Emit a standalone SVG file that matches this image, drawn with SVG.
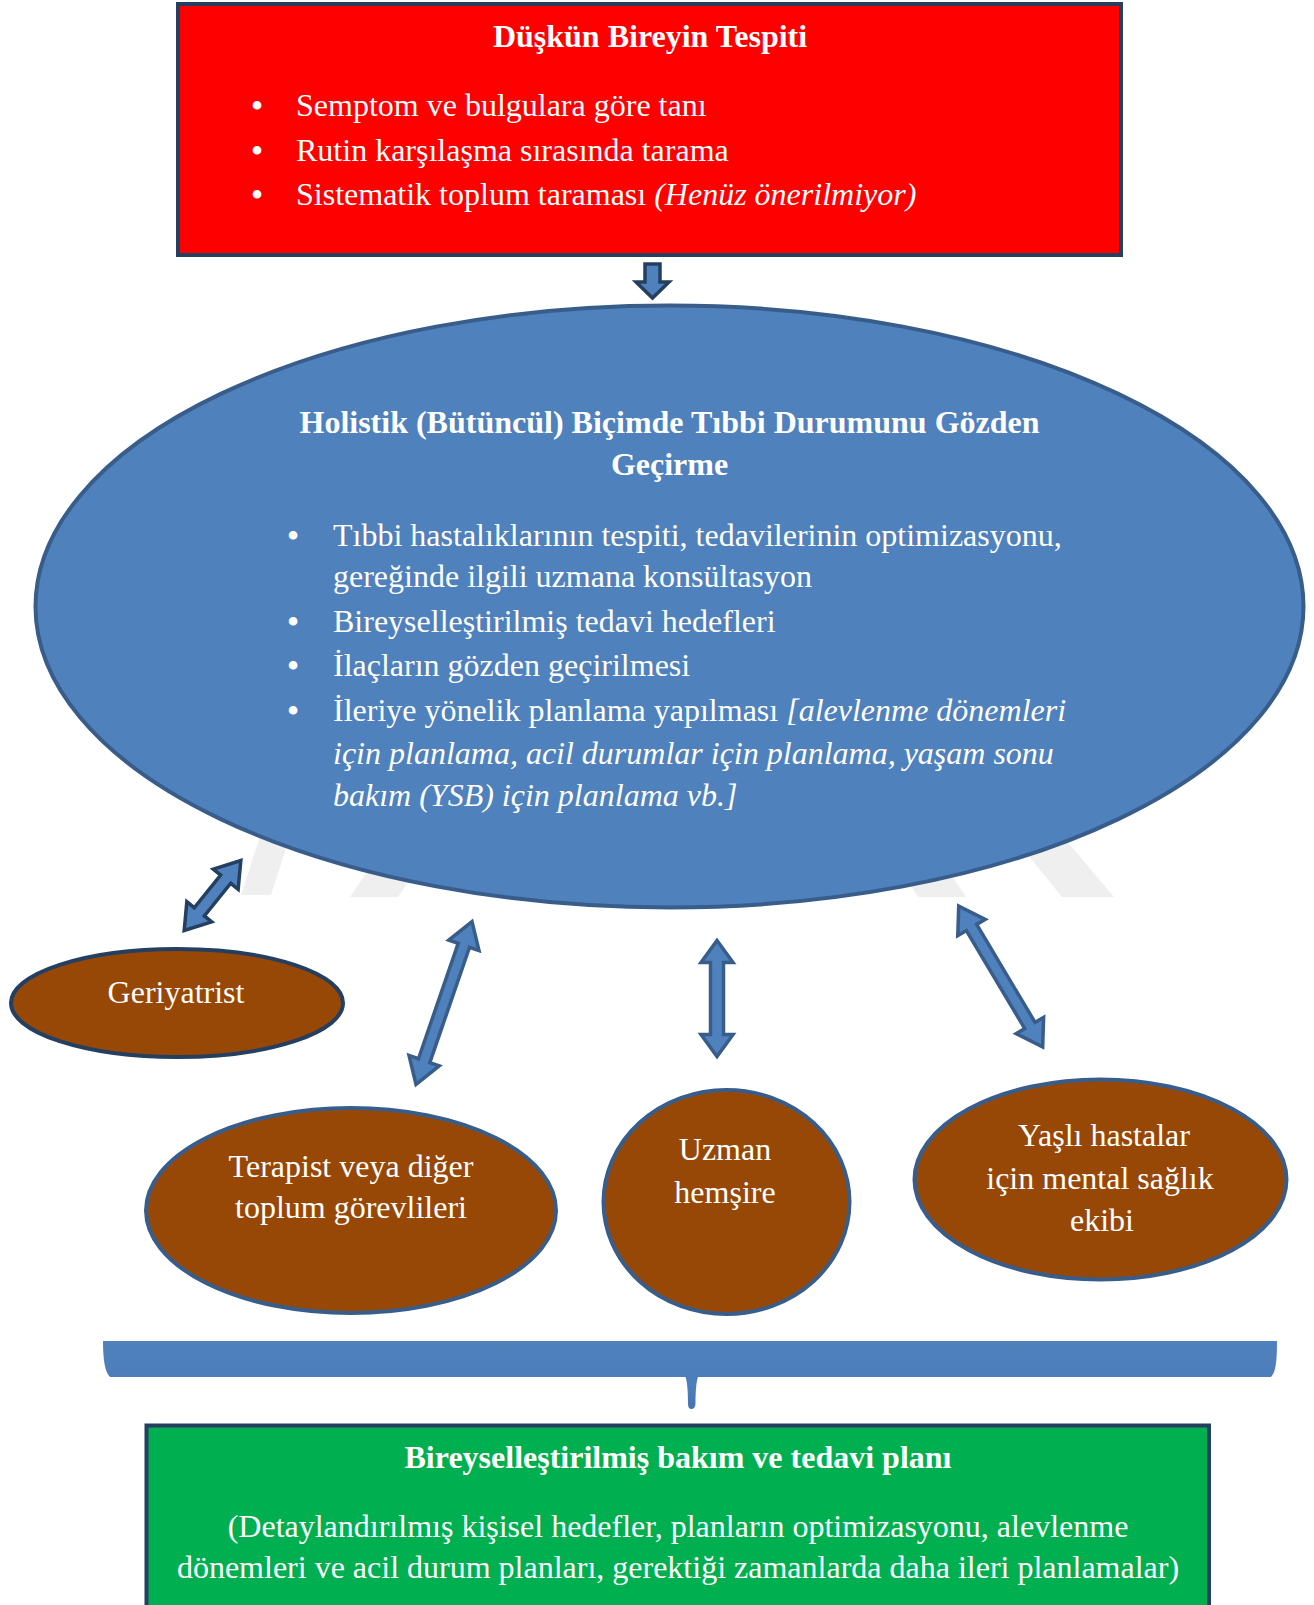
<svg xmlns="http://www.w3.org/2000/svg" width="1314" height="1605" viewBox="0 0 1314 1605">
<defs>
<style>
.t{font-family:"Liberation Serif","Times New Roman",serif;font-size:32px;fill:#ffffff}
.bs{font-size:36px;font-style:normal}
.b{font-weight:bold}
.i{font-style:italic}
.c{text-anchor:middle}
.arrowA{fill:#4f81bd;stroke:#243f60;stroke-width:3.5;stroke-linejoin:miter}
.arrowB{fill:#4f81bd;stroke:#385d8a;stroke-width:3.5;stroke-linejoin:miter}
.brown{fill:#974806;stroke:#385d8a;stroke-width:4}
.wm{fill:#efefef}
</style>
<linearGradient id="barGrad" x1="0" y1="0" x2="0" y2="1">
<stop offset="0" stop-color="#4f81bd"/>
<stop offset="0.7" stop-color="#4c7dbb"/>
<stop offset="1" stop-color="#4573b2"/>
</linearGradient>
</defs>
<rect width="1314" height="1605" fill="#ffffff"/>
<g id="watermark">
<polygon class="wm" points="241,895 271,895 292,830 262,830"/>
<polygon class="wm" points="350,897 398,897 430,850 382,850"/>
<polygon class="wm" points="918,897 966,897 935,850 887,850"/>
<polygon class="wm" points="1062,897 1114,897 1056,828 1006,828"/>
</g>
<g id="n-detect">
<rect x="178" y="4" width="943" height="251" fill="#ff0000" stroke="#243f60" stroke-width="4"/>
<text class="t b c" x="650" y="47">Düşkün Bireyin Tespiti</text>
<text class="t" y="116"><tspan class="bs" x="250.7" dy="2">•</tspan><tspan x="296" dy="-2">Semptom ve bulgulara göre tanı</tspan></text>
<text class="t" y="161"><tspan class="bs" x="250.7" dy="2">•</tspan><tspan x="296" dy="-2">Rutin karşılaşma sırasında tarama</tspan></text>
<text class="t" y="205"><tspan class="bs" x="250.7" dy="2">•</tspan><tspan x="296" dy="-2">Sistematik toplum taraması </tspan><tspan class="i">(Henüz önerilmiyor)</tspan></text>
</g>
<g id="n-holistic">
<ellipse cx="669.5" cy="606.5" rx="634" ry="301" fill="#4f81bd" stroke="#385d8a" stroke-width="4"/>
<text class="t b c" x="669.5" y="433">Holistik (Bütüncül) Biçimde Tıbbi Durumunu Gözden</text>
<text class="t b c" x="669.5" y="475">Geçirme</text>
<text class="t" y="546"><tspan class="bs" x="286.7" dy="2">•</tspan><tspan x="333" dy="-2">Tıbbi hastalıklarının tespiti, tedavilerinin optimizasyonu,</tspan></text>
<text class="t" x="333" y="587">gereğinde ilgili uzmana konsültasyon</text>
<text class="t" y="632"><tspan class="bs" x="286.7" dy="2">•</tspan><tspan x="333" dy="-2">Bireyselleştirilmiş tedavi hedefleri</tspan></text>
<text class="t" y="676"><tspan class="bs" x="286.7" dy="2">•</tspan><tspan x="333" dy="-2">İlaçların gözden geçirilmesi</tspan></text>
<text class="t" y="721"><tspan class="bs" x="286.7" dy="2">•</tspan><tspan x="333" dy="-2">İleriye yönelik planlama yapılması </tspan><tspan class="i">[alevlenme dönemleri</tspan></text>
<text class="t i" x="333" y="764">için planlama, acil durumlar için planlama, yaşam sonu</text>
<text class="t i" x="333" y="806">bakım (YSB) için planlama vb.]</text>
</g>
<g id="n-geriatrist">
<ellipse cx="177" cy="1003" rx="166" ry="54" fill="#974806" stroke="#243f60" stroke-width="4"/>
<text class="t c" x="176" y="1003">Geriyatrist</text>
</g>
<g id="n-therapist">
<ellipse cx="351" cy="1210.5" rx="205" ry="102.5" class="brown"/>
<text class="t c" x="351" y="1177">Terapist veya diğer</text>
<text class="t c" x="351" y="1218">toplum görevlileri</text>
</g>
<g id="n-nurse">
<ellipse cx="726.5" cy="1202" rx="123" ry="112" class="brown"/>
<text class="t c" x="725" y="1160">Uzman</text>
<text class="t c" x="725" y="1203">hemşire</text>
</g>
<g id="n-mental">
<ellipse cx="1100.5" cy="1179.5" rx="186" ry="100" class="brown"/>
<text class="t c" x="1104" y="1146">Yaşlı hastalar</text>
<text class="t c" x="1100" y="1189">için mental sağlık</text>
<text class="t c" x="1102" y="1231">ekibi</text>
</g>
<g id="bracket">
<path d="M103,1341 H1277 C1277,1360 1276,1372 1271,1377 H698 C696,1382 695.5,1395 695.5,1404 Q695,1409 691.5,1409 Q688,1409 688,1404 C688,1395 687.5,1382 685.5,1377 H110 C105,1372 103,1360 103,1341 Z" fill="url(#barGrad)"/>
</g>
<g id="n-plan">
<rect x="146.5" y="1425.5" width="1062.5" height="186" fill="#00b050" stroke="#243f60" stroke-width="4"/>
<text class="t b c" x="678" y="1468">Bireyselleştirilmiş bakım ve tedavi planı</text>
<text class="t c" x="678" y="1537">(Detaylandırılmış kişisel hedefler, planların optimizasyonu, alevlenme</text>
<text class="t c" x="678" y="1578">dönemleri ve acil durum planları, gerektiği zamanlarda daha ileri planlamalar)</text>
</g>
<g id="connectors">
<path class="arrowA" d="M645,264 L660,264 L660,282 L669,282 L652.5,298 L636,282 L645,282 Z"/>
<g transform="translate(212.5,895.5) rotate(-51)">
<path class="arrowA" d="M-45,0 L-21,-16 L-21,-6.5 L21,-6.5 L21,-16 L45,0 L21,16 L21,6.5 L-21,6.5 L-21,16 Z"/>
</g>
<g transform="translate(444,1003) rotate(-71)">
<path class="arrowB" d="M-86,0 L-61,-16 L-61,-6 L61,-6 L61,-16 L86,0 L61,16 L61,6 L-61,6 L-61,16 Z"/>
</g>
<g transform="translate(717,998.5) rotate(90)">
<path class="arrowB" d="M-58,0 L-36,-16 L-36,-6.5 L36,-6.5 L36,-16 L58,0 L36,16 L36,6.5 L-36,6.5 L-36,16 Z"/>
</g>
<g transform="translate(1000.7,976.5) rotate(59.2)">
<path class="arrowB" d="M-82,0 L-57,-16 L-57,-6 L57,-6 L57,-16 L82,0 L57,16 L57,6 L-57,6 L-57,16 Z"/>
</g>
</g>
</svg>
